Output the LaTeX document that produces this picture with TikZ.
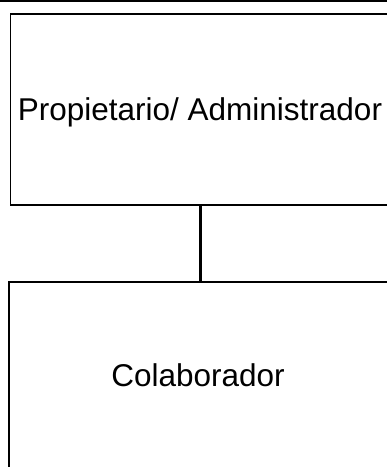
\documentclass[tikz,border=0pt]{standalone}
\usepackage{fontspec}
\setmainfont{Liberation Sans}
\begin{document}
\begin{tikzpicture}[x=1pt,y=-1pt,
  box/.style={draw=black, line width=1.8pt, rectangle, inner sep=0pt, anchor=north west},
  lbl/.style={font=\fontsize{31.5}{36}\selectfont, inner sep=0pt, anchor=base},
  conn/.style={draw=black, line width=2.4pt}]
\useasboundingbox (0,0) rectangle (387,467);
\draw[line width=1.4pt] (0,0.8) -- (387,0.8);
\node[box, minimum width=400pt, minimum height=191pt] (own) at (9.5,13) {};
\node[box, minimum width=400pt, minimum height=220pt] (colab) at (7.8,281) {};
\node[lbl] (ownlbl) at (200,120.3) {Propietario/ Administrador};
\node[lbl] (colablbl) at (198,386) {Colaborador};
\coordinate (cx) at (200.5,0);
\draw[conn] (own.south -| cx) -- (colab.north -| cx);
\end{tikzpicture}
\end{document}
